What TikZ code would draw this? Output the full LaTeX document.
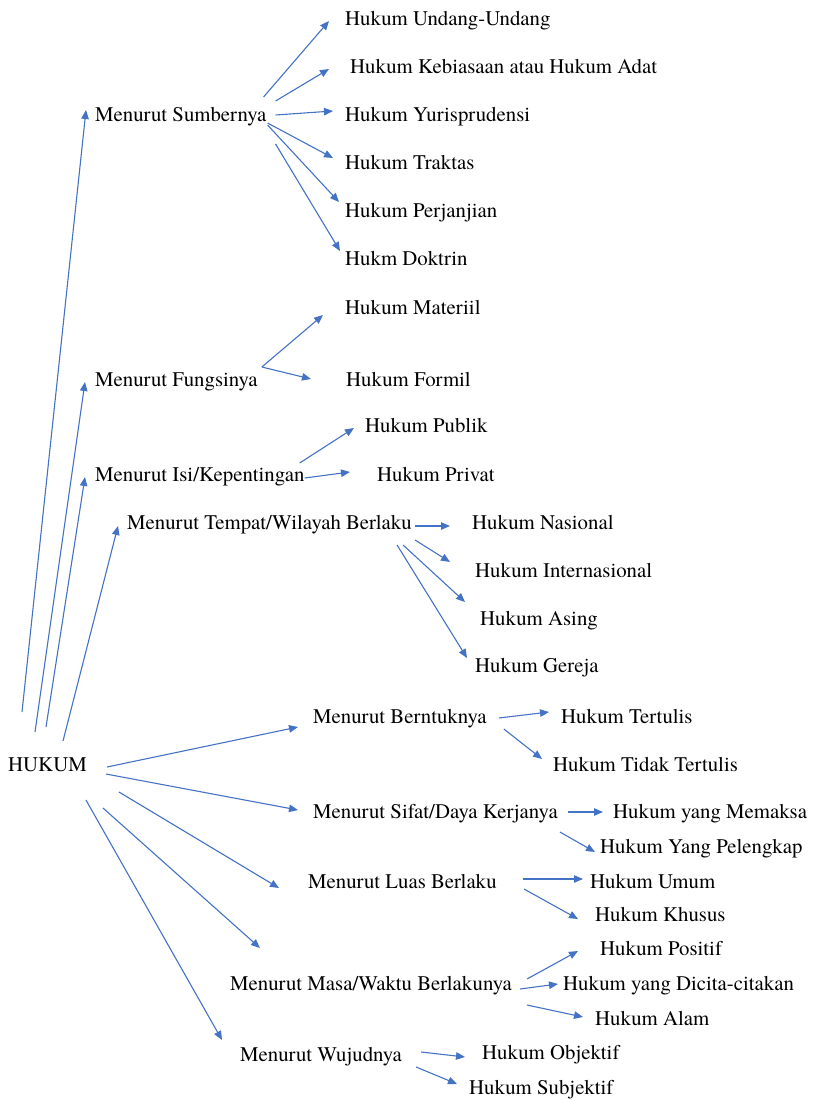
\documentclass[tikz,border=0pt]{standalone}
\usepackage{fontspec}
\setmainfont{TeX Gyre Termes}
\usetikzlibrary{arrows.meta}
\definecolor{wordblue}{RGB}{68,114,196}
\begin{document}
\begin{tikzpicture}[x=1pt, y=-1pt,
    lbl/.style={anchor=west, inner sep=0, text height=18pt, text depth=4pt,
      font=\fontsize{20.8}{24}\selectfont},
    arr/.style={wordblue, line width=1.1pt, -{Triangle[length=9pt, width=7.5pt]}}]
  \useasboundingbox (0, 0) rectangle (815, 1101);
  \node[lbl] (hukum) at (8, 764) {HUKUM};
  % first group
  \node[lbl] (sumber) at (95, 114) {Menurut Sumbernya};
  \node[lbl] (undang) at (345, 18) {Hukum Undang-Undang};
  \node[lbl] (adat) at (350, 66) {Hukum Kebiasaan atau Hukum Adat};
  \node[lbl] (yuris) at (345, 114) {Hukum Yurisprudensi};
  \node[lbl] (traktas) at (345, 162) {Hukum Traktas};
  \node[lbl] (janji) at (345, 210) {Hukum Perjanjian};
  \node[lbl] (doktrin) at (345, 258) {Hukm Doktrin};
  \node[lbl] (fungsi) at (95, 379) {Menurut Fungsinya};
  \node[lbl] (materiil) at (345, 307) {Hukum Materiil};
  \node[lbl] (formil) at (346, 379) {Hukum Formil};
  \node[lbl] (isi) at (95, 474) {Menurut Isi/Kepentingan};
  \node[lbl] (publik) at (365, 425) {Hukum Publik};
  \node[lbl] (privat) at (377, 474) {Hukum Privat};
  \node[lbl] (tempat) at (127, 522) {Menurut Tempat/Wilayah Berlaku};
  \node[lbl] (nasional) at (472, 522) {Hukum Nasional};
  \node[lbl] (inter) at (475, 570) {Hukum Internasional};
  \node[lbl] (asing) at (480, 618) {Hukum Asing};
  \node[lbl] (gereja) at (475, 665) {Hukum Gereja};
  % second group
  \node[lbl] (bentuk) at (313, 716) {Menurut Berntuknya};
  \node[lbl] (tertulis) at (561, 716) {Hukum Tertulis};
  \node[lbl] (tidak) at (553, 764) {Hukum Tidak Tertulis};
  \node[lbl] (sifat) at (313, 811) {Menurut Sifat/Daya Kerjanya};
  \node[lbl] (memaksa) at (613, 811) {Hukum yang Memaksa};
  \node[lbl] (lengkap) at (600, 846) {Hukum Yang Pelengkap};
  \node[lbl] (luas) at (308, 881) {Menurut Luas Berlaku};
  \node[lbl] (umum) at (590, 881) {Hukum Umum};
  \node[lbl] (khusus) at (595, 914) {Hukum Khusus};
  \node[lbl] (masa) at (230, 983) {Menurut Masa/Waktu Berlakunya};
  \node[lbl] (positif) at (600, 948) {Hukum Positif};
  \node[lbl] (cita) at (563, 983) {Hukum yang Dicita-citakan};
  \node[lbl] (alam) at (595, 1018) {Hukum Alam};
  \node[lbl] (wujud) at (240, 1054) {Menurut Wujudnya};
  \node[lbl] (objektif) at (482, 1052) {Hukum Objektif};
  \node[lbl] (subjektif) at (469, 1087) {Hukum Subjektif};
  % arrows from HUKUM upwards
  \foreach \t/\sx/\sy/\tx/\ty in {sumber/14/-52/-9/-4, fungsi/27/-32/-10/3,
      isi/38/-37/-10/3, tempat/55/-23/-9/4} {
    \draw[arr] ([shift={(\sx, \sy)}]hukum.west) -- ([shift={(\tx, \ty)}]\t.west);
  }
  % all other arrows
  \foreach \s/\sx/\sy/\t/\tx/\ty in {
      sumber/-3/-17/undang/-16/3, sumber/9/-13/adat/-21/3,
      sumber/9/1/yuris/-12/-3, sumber/1/9/traktas/-12/-4,
      sumber/1/11/janji/-6/-8, sumber/9/30/doktrin/-5/-7,
      fungsi/4/-12/materiil/-22/8, fungsi/4/-12/formil/-35/0,
      isi/-5/-11/publik/-11/3, isi/0/4/privat/-27/-2,
      tempat/3/4/nasional/-22/4, tempat/3/18/inter/-25/-8,
      tempat/-9/23/asing/-15/-16, tempat/-15/23/gereja/-8/-7,
      hukum/20/3/bentuk/-15/11, hukum/19/10/sifat/-15/-1,
      hukum/32/28/luas/-29/7, hukum/-1/36/wujud/-18/-14,
      bentuk/12/2/tertulis/-12/-4, bentuk/17/13/tidak/-11/-5,
      sifat/10/1/memaksa/-10/1, sifat/2/21/lengkap/-5/6,
      luas/26/-2/umum/-7/-2, luas/27/8/khusus/-17/5,
      masa/15/-4/positif/-22/3, masa/8/6/cita/-5/1,
      masa/15/22/alam/-12/-1,
      wujud/19/-2/objektif/-17/5, wujud/14/13/subjektif/-12/-3} {
    \draw[arr] ([shift={(\sx, \sy)}]\s.east) -- ([shift={(\tx, \ty)}]\t.west);
  }
  \draw[arr] ([shift={(16, 44)}]hukum.east) -- ([shift={(30, -35)}]masa.west);
\end{tikzpicture}
\end{document}
